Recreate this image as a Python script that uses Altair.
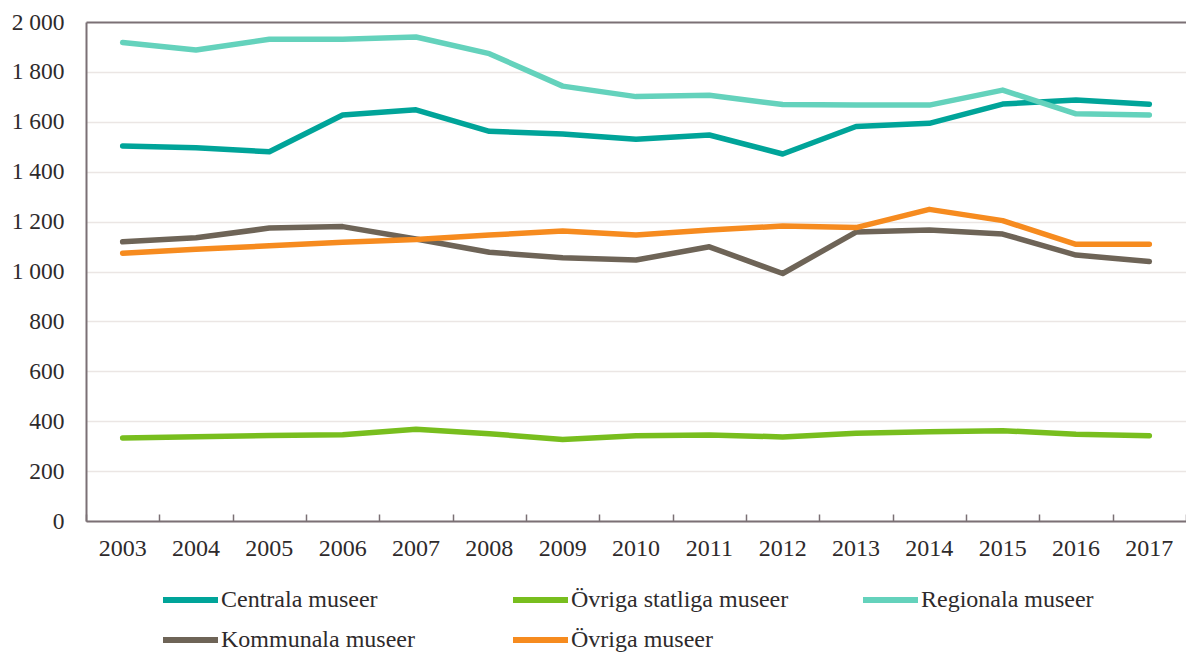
import altair as alt
import pandas as pd

years = [str(y) for y in range(2003, 2018)]
series_names = ["Centrala museer", "Övriga statliga museer", "Regionala museer",
                "Kommunala museer", "Övriga museer"]
colors = ["#00a499", "#78be1e", "#64d2bc", "#6e6457", "#f68b1f"]

centrala = [1503, 1496, 1480, 1627, 1648, 1562, 1551, 1530, 1547, 1471, 1581, 1594, 1671, 1687, 1670]
ovriga_statliga = [333, 338, 343, 346, 368, 350, 327, 342, 345, 337, 352, 358, 362, 348, 342]
regionala = [1918, 1888, 1931, 1931, 1940, 1873, 1743, 1701, 1706, 1669, 1667, 1667, 1727, 1632, 1627]
kommunala = [1119, 1135, 1174, 1180, 1130, 1077, 1055, 1046, 1099, 992, 1158, 1166, 1150, 1066, 1040]
ovriga = [1073, 1089, 1103, 1117, 1128, 1146, 1162, 1146, 1166, 1182, 1176, 1249, 1204, 1109, 1109]

y_ticks = list(range(0, 2001, 200))

all_series = [centrala, ovriga_statliga, regionala, kommunala, ovriga]
rows = []
for name, vals in zip(series_names, all_series):
    for yr, v in zip(years, vals):
        rows.append({"year": yr, "value": v, "series": name})
df = pd.DataFrame(rows)

FONT = "Liberation Serif"
AXIS_COLOR = "#7b7075"
GRID_COLOR = "#ebe6e4"
TEXT_COLOR = "#2e2a2b"

x_scale = alt.Scale(type="band", domain=years, paddingInner=0, paddingOuter=0)
y_scale = alt.Scale(domain=[0, 2000], nice=False)

lines = alt.Chart(df).mark_line(strokeWidth=5.5, strokeCap="round", strokeJoin="round").encode(
    x=alt.X("year:N", bandPosition=0.5, scale=x_scale, title=None,
            axis=alt.Axis(orient="bottom", ticks=False, domainColor=AXIS_COLOR, domainWidth=2,
                          labelFont=FONT, labelFontSize=24, labelColor=TEXT_COLOR,
                          labelPadding=15, labelAngle=0, grid=False)),
    y=alt.Y("value:Q", scale=y_scale, title=None,
            axis=alt.Axis(values=y_ticks, ticks=False, domainColor=AXIS_COLOR, domainWidth=2,
                          labelExpr="replace(format(datum.value, ','), ',', ' ')",
                          labelFont=FONT, labelFontSize=23.5, labelColor=TEXT_COLOR,
                          labelPadding=22,
                          gridColor={"condition": {"test": "datum.value === 2000", "value": AXIS_COLOR},
                                     "value": GRID_COLOR},
                          gridWidth={"condition": {"test": "datum.value === 2000", "value": 2},
                                     "value": 1.5})),
    color=alt.Color("series:N", sort=series_names,
                    scale=alt.Scale(domain=series_names, range=colors),
                    legend=alt.Legend(orient="none", legendX=74, legendY=565, columns=3,
                                      direction="horizontal",
                                      title=None, symbolType="stroke", symbolSize=3025,
                                      symbolStrokeWidth=6, labelFont=FONT, labelFontSize=24,
                                      labelColor=TEXT_COLOR, labelLimit=400, gridAlign="all",
                                      columnPadding=71, rowPadding=14, labelOffset=0,
                                      clipHeight=26, padding=0)),
    order=alt.Order("year:N"),
)

tick_layer = alt.Chart(df).mark_line(opacity=0).encode(
    x=alt.X("year:N", bandPosition=0.5, scale=x_scale, title=None,
            axis=alt.Axis(orient="bottom", domain=False, labels=False, ticks=True, tickSize=7,
                          tickWidth=1.5, tickColor=AXIS_COLOR, tickBand="extent", offset=-7,
                          grid=False)),
    y=alt.Y("value:Q", scale=y_scale, axis=None),
    detail="series:N",
)

chart = alt.layer(lines, tick_layer).resolve_axis(x="independent", y="independent").properties(
    width=1100, height=499,
    autosize=alt.AutoSizeParams(type="none"),
    padding={"left": 78, "top": 14, "right": 0, "bottom": 131},
).configure(font=FONT).configure_view(stroke=None)

chart.save("out.html", embed_options={"renderer": "svg", "actions": False})
